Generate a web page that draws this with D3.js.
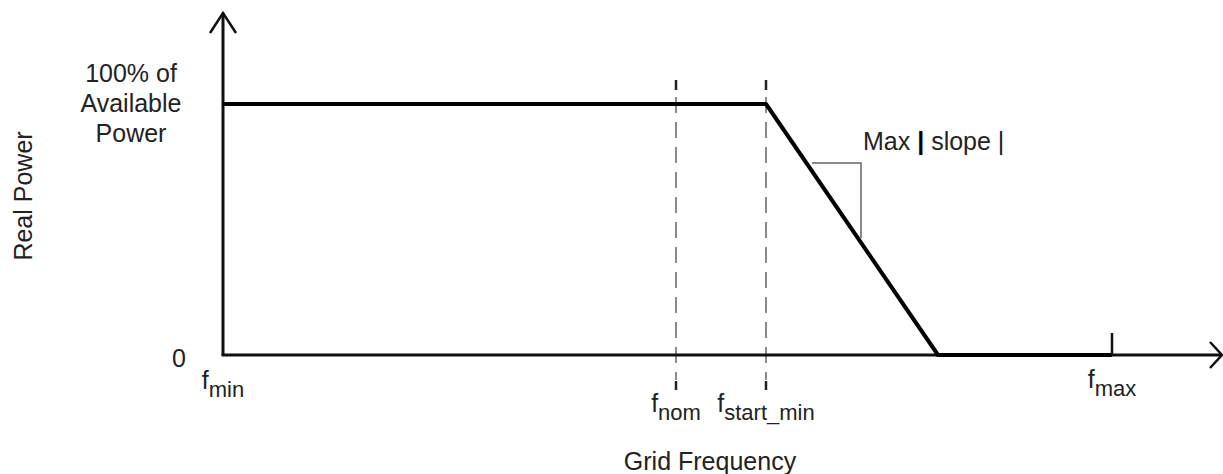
<!DOCTYPE html>
<html>
<head>
<meta charset="utf-8">
<script src="https://cdn.jsdelivr.net/npm/d3@7"></script>
<style>
  body { margin: 0; background: #fff; }
  text { font-family: "Liberation Sans", Arial, sans-serif; fill: #222; }
</style>
</head>
<body>
<div id="container"></div>
<script>
// frequency positions (0 = fmin, 100 = end of axis)
let freqNames = ["min", "nom", "start_min", "max"];
let freqValues = [0, 45.3, 54.3, 88.9];
let zeroPowerFreq = 71.5;

// power curve: full power until f_start_min, then a ramp down to zero
let curveFreq = [0, 54.3, 71.5, 88.9];
let curvePower = [100, 100, 0, 0];

// slope marker triangle
let triFreq = [58.9, 63.8, 63.8];
let triPower = [76.5, 76.5, 46.5];

let yLabelLines = ["100% of", "Available", "Power"];

let w = 1223;
let h = 474;

let viz = d3.select("#container")
  .append("svg")
    .attr("width", w)
    .attr("height", h)
;

let xScale = d3.scaleLinear().domain([0, 100]).range([223, 1223]);
let yScale = d3.scaleLinear().domain([0, 100]).range([355, 104]);

let x0 = xScale(0);
let y0 = yScale(0);
let yTop = 13;
let xEnd = xScale(100) - 1;

// dashed guide lines at f_nom and f_start_min
let dashTop = yScale(100) - 24;
let dashBottom = y0 + 35;
[freqValues[1], freqValues[2]].forEach(function(f){
  let x = xScale(f);
  viz.append("line")
    .attr("x1", x).attr("x2", x)
    .attr("y1", dashTop + 17).attr("y2", dashBottom - 10)
    .attr("stroke", "#8a8a8a")
    .attr("stroke-width", 2)
    .attr("stroke-dasharray", "16,9");
  // darker end pieces
  viz.append("line")
    .attr("x1", x).attr("x2", x)
    .attr("y1", dashTop).attr("y2", dashTop + 10)
    .attr("stroke", "#222").attr("stroke-width", 2.5);
  viz.append("line")
    .attr("x1", x).attr("x2", x)
    .attr("y1", dashBottom - 9).attr("y2", dashBottom)
    .attr("stroke", "#222").attr("stroke-width", 2.5);
});

// axes
viz.append("line")
  .attr("x1", x0).attr("x2", x0)
  .attr("y1", yTop).attr("y2", y0)
  .attr("stroke", "#111").attr("stroke-width", 3);
viz.append("line")
  .attr("x1", x0 - 1.5).attr("x2", xEnd)
  .attr("y1", y0).attr("y2", y0)
  .attr("stroke", "#111").attr("stroke-width", 3);

// open arrow heads
viz.append("path")
  .attr("d", "M" + (x0 - 13) + "," + (yTop + 20) + " L" + x0 + "," + yTop + " L" + (x0 + 13) + "," + (yTop + 20))
  .attr("fill", "none").attr("stroke", "#111").attr("stroke-width", 2.5);
viz.append("path")
  .attr("d", "M" + (xEnd - 12) + "," + (y0 - 13) + " L" + xEnd + "," + y0 + " L" + (xEnd - 12) + "," + (y0 + 13))
  .attr("fill", "none").attr("stroke", "#111").attr("stroke-width", 2.5);

// f_max tick
viz.append("line")
  .attr("x1", xScale(freqValues[3])).attr("x2", xScale(freqValues[3]))
  .attr("y1", y0 - 22).attr("y2", y0)
  .attr("stroke", "#111").attr("stroke-width", 2.5);

// power curve
let curveData = curveFreq.map(function(f, i){
  return { freq: f, power: curvePower[i] };
});
let lineMaker = d3.line()
  .x(function(d){ return xScale(d.freq); })
  .y(function(d){ return yScale(d.power); })
;
viz.append("path")
  .datum(curveData)
  .attr("d", lineMaker)
  .attr("fill", "none")
  .attr("stroke", "#000")
  .attr("stroke-width", 4)
  .attr("stroke-linejoin", "round");

// slope triangle
let triData = triFreq.map(function(f, i){
  return { freq: f, power: triPower[i] };
});
viz.append("path")
  .datum(triData)
  .attr("d", lineMaker)
  .attr("fill", "none")
  .attr("stroke", "#666")
  .attr("stroke-width", 1.5);

let slopeLabel = viz.append("text")
  .attr("x", 863)
  .attr("y", 150)
  .attr("font-size", 25);
slopeLabel.append("tspan").text("Max ");
slopeLabel.append("tspan").text("|").attr("font-weight", "bold").style("fill", "#000");
slopeLabel.append("tspan").text(" slope |");

// y labels
viz.append("text")
  .attr("x", 131)
  .attr("y", 82)
  .attr("text-anchor", "middle")
  .attr("font-size", 25)
  .selectAll("tspan")
  .data(yLabelLines)
  .enter()
  .append("tspan")
    .attr("x", 131)
    .attr("dy", function(d, i){ return i == 0 ? 0 : 30; })
    .text(function(d){ return d; })
;
viz.append("text")
  .attr("x", 179)
  .attr("y", 367)
  .attr("text-anchor", "middle")
  .attr("font-size", 25)
  .text("0");

// frequency labels: f with subscript
let labelY = [389, 412, 412, 388];
freqNames.forEach(function(name, i){
  let t = viz.append("text")
    .attr("x", xScale(freqValues[i]))
    .attr("y", labelY[i])
    .attr("text-anchor", "middle")
    .attr("font-size", 25);
  t.append("tspan").text("f");
  t.append("tspan").text(name).attr("font-size", 22).attr("dy", 8);
});

// axis titles
viz.append("text")
  .attr("x", 710)
  .attr("y", 470)
  .attr("text-anchor", "middle")
  .attr("font-size", 25)
  .text("Grid Frequency");
viz.append("text")
  .attr("transform", "translate(32,196) rotate(-90)")
  .attr("text-anchor", "middle")
  .attr("font-size", 25)
  .text("Real Power");
</script>
</body>
</html>
